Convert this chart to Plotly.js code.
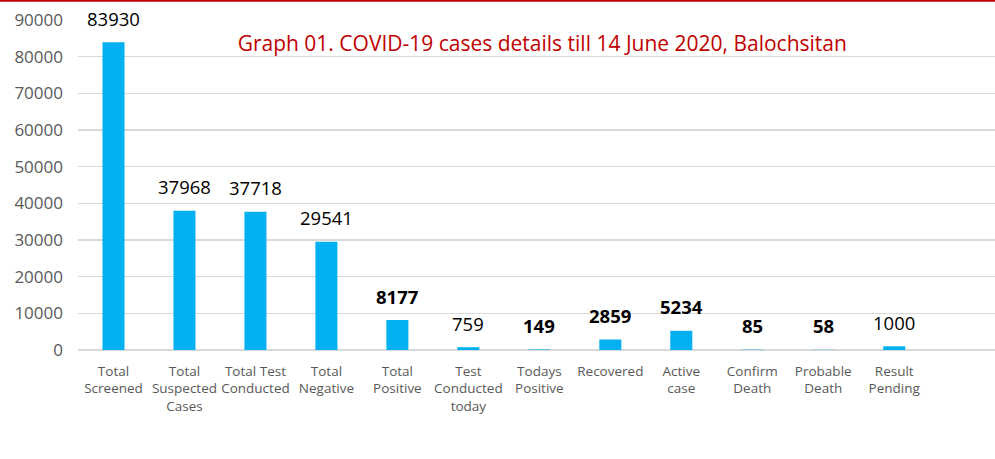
<!DOCTYPE html>
<html>
<head>
<meta charset="utf-8">
<script src="https://cdn.plot.ly/plotly-3.0.1.min.js"></script>
<style>html,body{margin:0;padding:0;background:#fff;}#chart{width:995px;height:459px;}</style>
</head>
<body>
<div id="chart"></div>
<script>
const categories = ["Total<br>Screened","Total<br>Suspected<br>Cases","Total Test<br>Conducted","Total<br>Negative","Total<br>Positive","Test<br>Conducted<br>today","Todays<br>Positive","Recovered","Active<br>case","Confirm<br>Death","Probable<br>Death","Result<br>Pending"];
const values = [83930, 37968, 37718, 29541, 8177, 759, 149, 2859, 5234, 85, 58, 1000];
const boldLabel = [false, false, false, false, true, false, true, true, true, true, true, false];
const yTicks = [0, 10000, 20000, 30000, 40000, 50000, 60000, 70000, 80000, 90000];

const font = "'Open Sans', 'Noto Sans', sans-serif";

const trace = {
  type: "bar",
  x: categories.map((c, i) => i),
  y: values,
  width: 0.31,
  marker: {color: "#00b0f0"},
  hoverinfo: "skip"
};

const annotations = values.map((v, i) => ({
  x: i, y: v, xref: "x", yref: "y",
  text: boldLabel[i] ? "<b>" + v + "</b>" : String(v),
  showarrow: false, yanchor: "middle", yshift: 24,
  font: {family: font, size: 18.5, color: "#000"}
}));

const layout = {
  width: 995, height: 459,
  margin: {l: 78, r: 0, t: 20, b: 109},
  paper_bgcolor: "#fff", plot_bgcolor: "#fff",
  showlegend: false,
  title: {text: "Graph 01. COVID-19 cases details till 14 June 2020, Balochsitan",
    font: {family: font, size: 21, color: "#c00000"},
    x: 0.545, xanchor: "center", y: 0.905, yanchor: "middle"},
  xaxis: {
    type: "linear", range: [-0.5, 12.42],
    tickmode: "array", tickvals: categories.map((c, i) => i), ticktext: categories,
    showgrid: false, zeroline: false, showline: false, ticks: "",
    tickfont: {family: font, size: 13.5, color: "#595959"},
    ticklabelstandoff: 11
  },
  yaxis: {
    range: [0, 90000], tickmode: "array", tickvals: yTicks,
    ticktext: yTicks.map(String),
    showgrid: true, gridcolor: "#d9d9d9", gridwidth: 1.5,
    zeroline: true, zerolinecolor: "#d9d9d9", zerolinewidth: 1.5,
    ticks: "", ticklabelstandoff: 14,
    tickfont: {family: font, size: 17, color: "#595959"}
  },
  annotations: annotations,
  shapes: [{type: "line", xref: "paper", yref: "paper", x0: -0.1, x1: 1.05, y0: 1.058, y1: 1.058,
    line: {color: "#c00000", width: 2}}]
};

Plotly.newPlot("chart", [trace], layout, {displayModeBar: false, staticPlot: true});
</script>
</body>
</html>
